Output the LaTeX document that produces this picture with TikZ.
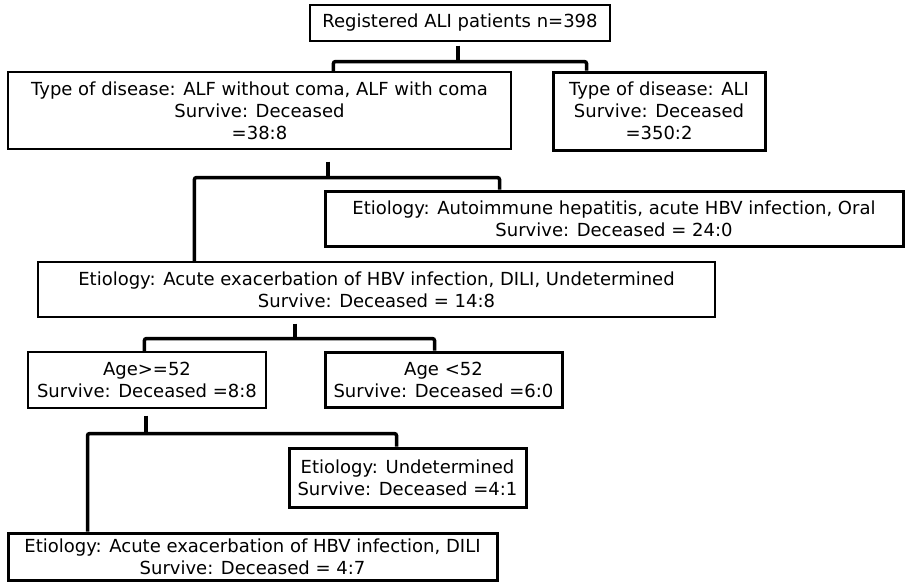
\documentclass[tikz,border=0pt]{standalone}
\usepackage{fontspec}
\setmainfont{DejaVu Sans}
\usetikzlibrary{calc}

\begin{document}
\begin{tikzpicture}[x=1pt,y=-1pt,
  box/.style={draw,line width=1.2pt,fill=white,align=center,inner sep=0pt,
    font=\fontsize{18}{22}\selectfont},
  boldbox/.style={box,line width=3pt},
  link/.style={line width=3.5pt,rounded corners=2pt}]
% Parameters
\def\gap{4}
\useasboundingbox (0,0) rectangle (907,581);

% Boxes
\node[box,minimum width=300pt,minimum height=36pt] (root) at (460,23)
  {Registered ALI patients n=398};
\node[box,minimum width=503pt,minimum height=77pt] (alf) at (259.5,110.5)
  {Type of disease: ALF without coma, ALF with coma\\Survive: Deceased\\=38:8};
\node[boldbox,minimum width=212pt,minimum height=78pt] (ali) at (659,111)
  {Type of disease: ALI\\Survive: Deceased\\=350:2};
\node[boldbox,minimum width=578pt,minimum height=55pt] (auto) at (614,218.5)
  {Etiology: Autoimmune hepatitis, acute HBV infection, Oral\\Survive: Deceased = 24:0};
\node[box,minimum width=677pt,minimum height=55pt] (etio) at (376.5,289.5)
  {Etiology: Acute exacerbation of HBV infection, DILI, Undetermined\\Survive: Deceased = 14:8};
\node[box,minimum width=238pt,minimum height=56pt] (older) at (147,380)
  {Age>=52\\Survive: Deceased =8:8};
\node[boldbox,minimum width=237pt,minimum height=55pt] (younger) at (443.5,379.5)
  {Age <52\\Survive: Deceased =6:0};
\node[boldbox,minimum width=237pt,minimum height=59pt] (undet) at (407.5,477.5)
  {Etiology: Undetermined\\Survive: Deceased =4:1};
\node[boldbox,minimum width=489pt,minimum height=47pt] (acute) at (252.5,556.5)
  {Etiology: Acute exacerbation of HBV infection, DILI\\Survive: Deceased = 4:7};

% Splits
\draw[link] ($(root.south)+(-2,\gap)$) -- ++(0,16) coordinate (fork1);
\draw[link] ($(alf.north west)+(326,0)$) |- (fork1) -| ($(ali.north west)+(35,0)$);

\draw[link] ($(alf.south)+(68.5,12)$) -- ++(0,16) coordinate (fork2);
\draw[link] ($(etio.north west)+(157,0)$) |- (fork2) -| ($(auto.north west)+(176,0)$);

\draw[link] ($(etio.south)+(-81.5,6)$) -- ++(0,15) coordinate (fork3);
\draw[link] ($(older.north west)+(117,0)$) |- (fork3) -| ($(younger.north west)+(111,0)$);

\draw[link] ($(older.south)+(-1,7)$) -- ++(0,18) coordinate (fork4);
\draw[link] ($(acute.north west)+(81,0)$) |- (fork4) -| ($(undet.north west)+(109,0)$);
\end{tikzpicture}
\end{document}
